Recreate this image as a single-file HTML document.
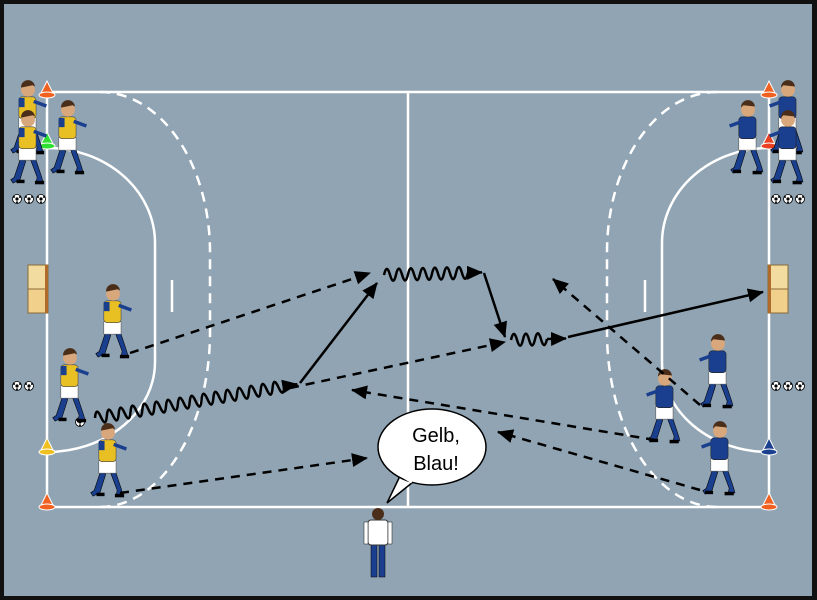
<!DOCTYPE html>
<html><head><meta charset="utf-8"><style>
html,body{margin:0;padding:0;background:#111;}
svg{display:block}
</style></head><body>
<svg width="817" height="600" viewBox="0 0 817 600" xmlns="http://www.w3.org/2000/svg">
<defs>
<marker id="ahb" markerWidth="16" markerHeight="16" refX="15" refY="8" orient="auto" markerUnits="userSpaceOnUse" viewBox="0 0 16 16"><path d="M0,1 L16,8 L0,15 Z" fill="#000"/></marker>
<g id="py">
 <path d="M-6,-22 L-12,-4 L-15,-2 L-13,1 L-7,-2 L-2,-18Z" fill="#1a3f8f" stroke="#000" stroke-width=".5"/>
 <path d="M2,-20 L8,-4 L7,0 L13,0 L12,-4 L6,-22Z" fill="#1a3f8f" stroke="#000" stroke-width=".5"/>
 <rect x="-8" y="-30" width="15" height="11" fill="#fff" stroke="#555" stroke-width=".5"/>
 <rect x="-8" y="-48" width="15" height="19" rx="3" fill="#e8c024" stroke="#444" stroke-width=".5"/>
 <rect x="-8" y="-47" width="5" height="8" fill="#1a3f8f"/>
 <path d="M5,-44 L16,-40" stroke="#1a3f8f" stroke-width="3"/>
 <circle cx="0" cy="-54" r="6" fill="#d9a77c"/>
 <path d="M-6,-56 a6,6 0 0 1 12,-1 L4,-58Z" fill="#4a2e1a"/>
 <rect x="-10" y="-2" width="7" height="3" fill="#000"/><rect x="6" y="-1" width="8" height="3" fill="#000"/>
</g>
<g id="pb">
 <path d="M-6,-22 L-12,-4 L-15,-2 L-13,1 L-7,-2 L-2,-18Z" fill="#1a3f8f" stroke="#000" stroke-width=".5"/>
 <path d="M2,-20 L8,-4 L7,0 L13,0 L12,-4 L6,-22Z" fill="#1a3f8f" stroke="#000" stroke-width=".5"/>
 <rect x="-8" y="-30" width="15" height="11" fill="#fff" stroke="#555" stroke-width=".5"/>
 <rect x="-8" y="-48" width="15" height="19" rx="3" fill="#1a3f8f" stroke="#222" stroke-width=".5"/>
 <path d="M-5,-44 L-16,-40" stroke="#1a3f8f" stroke-width="3"/>
 <circle cx="0" cy="-54" r="6" fill="#d9a77c"/>
 <path d="M-6,-56 a6,6 0 0 1 12,-1 L-4,-58Z" fill="#4a2e1a"/>
 <rect x="-13" y="-2" width="7" height="3" fill="#000"/><rect x="4" y="-1" width="8" height="3" fill="#000"/>
</g>
<g id="ball"><circle r="4.5" fill="#fff" stroke="#000" stroke-width=".8"/><circle r="1.6" fill="#000"/><circle cx="-3" cy="-2" r="1" fill="#000"/><circle cx="3" cy="-2" r="1" fill="#000"/><circle cx="0" cy="3.2" r="1" fill="#000"/></g>
</defs>
<rect x="0" y="0" width="817" height="600" fill="#111"/>
<rect x="4" y="4" width="808" height="592" fill="#90a4b3"/>
<g fill="none" stroke="#fff" stroke-width="2.5">
 <rect x="47" y="92" width="722" height="415"/>
 <line x1="408" y1="92" x2="408" y2="507"/>
 <path d="M47,148 A108,95 0 0 1 155,243 L155,362 A108,90 0 0 1 47,452"/>
 <path d="M769,148 A107,95 0 0 0 662,243 L662,362 A107,90 0 0 0 769,452"/>
 <line x1="172" y1="280" x2="172" y2="312"/>
 <line x1="645" y1="280" x2="645" y2="312"/>
 <path stroke-dasharray="10,7" d="M100,92 A110,160 0 0 1 210,252 L210,330 A110,175 0 0 1 100,507"/>
 <path stroke-dasharray="10,7" d="M717,92 A110,160 0 0 0 607,252 L607,330 A110,175 0 0 0 717,507"/>
</g>
<rect x="28" y="265" width="20" height="24" fill="#f2dca0" stroke="#8a6a3a"/><rect x="28" y="289" width="20" height="24" fill="#f0d08a" stroke="#8a6a3a"/>
<rect x="768" y="265" width="20" height="24" fill="#f2dca0" stroke="#8a6a3a"/><rect x="768" y="289" width="20" height="24" fill="#f0d08a" stroke="#8a6a3a"/>
<rect x="768" y="265" width="3" height="48" fill="#b06a2a"/><rect x="45" y="265" width="3" height="48" fill="#b06a2a"/>
<g stroke="#fff" stroke-width="1">
<path d="M40,95 L54,95 L47,81Z" fill="#f06020"/><ellipse cx="47" cy="95" rx="8" ry="3" fill="#f06020"/>
<path d="M40,146 L54,146 L47,132Z" fill="#30e030"/><ellipse cx="47" cy="146" rx="8" ry="3" fill="#30e030"/>
<path d="M40,452 L54,452 L47,438Z" fill="#f0c020"/><ellipse cx="47" cy="452" rx="8" ry="3" fill="#f0c020"/>
<path d="M40,507 L54,507 L47,493Z" fill="#f06020"/><ellipse cx="47" cy="507" rx="8" ry="3" fill="#f06020"/>
<path d="M762,95 L776,95 L769,81Z" fill="#f06020"/><ellipse cx="769" cy="95" rx="8" ry="3" fill="#f06020"/>
<path d="M762,146 L776,146 L769,132Z" fill="#e84020"/><ellipse cx="769" cy="146" rx="8" ry="3" fill="#e84020"/>
<path d="M762,452 L776,452 L769,438Z" fill="#1a3f8f"/><ellipse cx="769" cy="452" rx="8" ry="3" fill="#1a3f8f"/>
<path d="M762,507 L776,507 L769,493Z" fill="#f06020"/><ellipse cx="769" cy="507" rx="8" ry="3" fill="#f06020"/>
</g>
<use href="#ball" x="17" y="199"/><use href="#ball" x="29" y="199"/><use href="#ball" x="41" y="199"/>
<use href="#ball" x="17" y="386"/><use href="#ball" x="29" y="386"/>
<use href="#ball" x="776" y="199"/><use href="#ball" x="788" y="199"/><use href="#ball" x="800" y="199"/>
<use href="#ball" x="776" y="386"/><use href="#ball" x="788" y="386"/><use href="#ball" x="800" y="386"/>
<use href="#ball" x="80" y="422"/>
<g transform="translate(28,152) scale(1.15)"><use href="#py"/></g>
<g transform="translate(28,182) scale(1.15)"><use href="#py"/></g>
<g transform="translate(68,172) scale(1.15)"><use href="#py"/></g>
<g transform="translate(113,356) scale(1.15)"><use href="#py"/></g>
<g transform="translate(70,420) scale(1.15)"><use href="#py"/></g>
<g transform="translate(108,495) scale(1.15)"><use href="#py"/></g>
<g transform="translate(788,152) scale(1.15)"><use href="#pb"/></g>
<g transform="translate(748,172) scale(1.15)"><use href="#pb"/></g>
<g transform="translate(788,182) scale(1.15)"><use href="#pb"/></g>
<g transform="translate(718,406) scale(1.15)"><use href="#pb"/></g>
<g transform="translate(665,441) scale(1.15)"><use href="#pb"/></g>
<g transform="translate(720,493) scale(1.15)"><use href="#pb"/></g>
<g transform="translate(378,578)">
 <rect x="-7" y="-35" width="6" height="34" fill="#1a3f8f" stroke="#000" stroke-width=".5"/>
 <rect x="1" y="-35" width="6" height="34" fill="#1a3f8f" stroke="#000" stroke-width=".5"/>
 <rect x="-10" y="-58" width="20" height="25" rx="3" fill="#fff" stroke="#333"/>
 <rect x="-14" y="-56" width="4" height="22" fill="#fff" stroke="#333" stroke-width=".6"/>
 <rect x="10" y="-56" width="4" height="22" fill="#fff" stroke="#333" stroke-width=".6"/>
 <circle cx="0" cy="-64" r="6" fill="#4a2e1a"/>
</g>
<g fill="none" stroke="#000" stroke-width="2.5">
 <line x1="130" y1="353" x2="370" y2="273" stroke-dasharray="9,7" marker-end="url(#ahb)"/>
 <line x1="290" y1="388" x2="505" y2="342" stroke-dasharray="9,7" marker-end="url(#ahb)"/>
 <line x1="120" y1="493" x2="367" y2="458" stroke-dasharray="9,7" marker-end="url(#ahb)"/>
 <line x1="700" y1="405" x2="553" y2="279" stroke-dasharray="9,7" marker-end="url(#ahb)"/>
 <line x1="655" y1="440" x2="352" y2="390" stroke-dasharray="9,7" marker-end="url(#ahb)"/>
 <line x1="700" y1="490" x2="498" y2="432" stroke-dasharray="9,7" marker-end="url(#ahb)"/>
 <line x1="300" y1="383" x2="377" y2="283" marker-end="url(#ahb)"/>
 <line x1="484" y1="273" x2="505" y2="337" marker-end="url(#ahb)"/>
 <line x1="568" y1="337" x2="763" y2="292" marker-end="url(#ahb)"/>
 <g transform="translate(95,418) rotate(-9.5)">
  <path d="M0,0 q3,-12 6,0 t6,0 t6,0 t6,0 t6,0 t6,0 t6,0 t6,0 t6,0 t6,0 t6,0 t6,0 t6,0 t6,0 t6,0 t6,0 t6,0 t6,0 t6,0 t6,0 t6,0 t6,0 t6,0 t6,0 t6,0 t6,0 t6,0 t6,0 t6,0 t6,0 t6,0 t6,0"/>
  <line x1="192" y1="0" x2="205" y2="0" marker-end="url(#ahb)"/>
 </g>
 <g transform="translate(384,275) rotate(-1.5)">
  <path d="M0,0 q3,-12 6,0 t6,0 t6,0 t6,0 t6,0 t6,0 t6,0 t6,0 t6,0 t6,0 t6,0 t6,0 t6,0 t6,0"/>
  <line x1="84" y1="0" x2="98" y2="0" marker-end="url(#ahb)"/>
 </g>
 <g transform="translate(511,340) rotate(-1.5)">
  <path d="M0,0 q3,-12 6,0 t6,0 t6,0 t6,0 t6,0 t6,0"/>
  <line x1="36" y1="0" x2="55" y2="0" marker-end="url(#ahb)"/>
 </g>
</g>
<path d="M400,476 L387,503 L413,482Z" fill="#fff" stroke="#000" stroke-width="1.5"/>
<ellipse cx="432" cy="447" rx="54" ry="38" fill="#fff" stroke="#000" stroke-width="1.5"/>
<path d="M399,474 L412,482" stroke="#fff" stroke-width="3"/>
<text x="436" y="442" font-family="'Liberation Sans', 'DejaVu Sans', sans-serif" font-size="20" text-anchor="middle">Gelb,</text>
<text x="436" y="470" font-family="'Liberation Sans', 'DejaVu Sans', sans-serif" font-size="20" text-anchor="middle">Blau!</text>
</svg>
</body></html>
